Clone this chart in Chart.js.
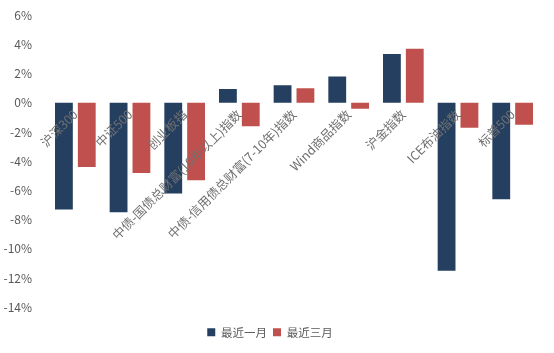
<!DOCTYPE html>
<html>
<head>
<meta charset="utf-8">
<script src="https://cdn.jsdelivr.net/npm/chart.js@4/dist/chart.umd.min.js"></script>
<style>
  html, body { margin: 0; padding: 0; background: #fff; }
  #wrap { width: 554px; height: 353px; }
</style>
</head>
<body>
<div id="wrap"><canvas id="c"></canvas></div>
<script>
// ═══════════════════════════════════════
// DATA
// ═══════════════════════════════════════
const categories = ['沪深300', '中证500', '创业板指', '中债-国债总财富(10年以上)指数', '中债-信用债总财富(7-10年)指数', 'Wind商品指数', '沪金指数', 'ICE布油指数', '标普500'];
const lastMonth = [-7.3, -7.5, -6.2, 0.95, 1.2, 1.8, 3.35, -11.5, -6.6];
const lastThreeMonths = [-4.4, -4.8, -5.3, -1.6, 1.0, -0.4, 3.7, -1.7, -1.5];
const seriesNames = ['最近一月', '最近三月'];
const yTicks = [6, 4, 2, 0, -2, -4, -6, -8, -10, -12, -14];

const FONT = '"Noto Sans CJK SC", "Microsoft YaHei", sans-serif';
const BLUE = '#243F60';
const RED = '#C0504D';

new Chart(document.getElementById('c'), {
  type: 'bar',
  data: {
    labels: categories,
    datasets: [
      { label: seriesNames[0], data: lastMonth, backgroundColor: BLUE },
      { label: seriesNames[1], data: lastThreeMonths, backgroundColor: RED },
    ],
  },
  options: {
    responsive: true,
    maintainAspectRatio: false,
    animation: false,
    categoryPercentage: 0.836,
    barPercentage: 0.78,
    layout: { padding: { top: 8, right: 14, left: 0, bottom: 5 } },
    plugins: {
      legend: {
        position: 'bottom',
        // blank title just opens up a gap between plot and legend
        title: { display: true, text: ' ', font: { size: 1 }, padding: { top: 12, bottom: 0 } },
        labels: {
          usePointStyle: true,
          pointStyle: 'rect',
          boxWidth: 8,
          boxHeight: 8,
          color: '#595959',
          font: { family: FONT, size: 11.5 },
          padding: 6,
        },
      },
      tooltip: { enabled: false },
    },
    scales: {
      x: {
        // axis sits on the zero line, labels hang below it over the bars
        position: { y: 0 },
        grid: { display: false },
        border: { display: false },
        ticks: {
          z: 1,
          autoSkip: false,
          maxRotation: 45,
          minRotation: 45,
          padding: -4,
          color: '#707070',
          font: { family: FONT, size: 12.5 },
        },
      },
      y: {
        min: -14,
        max: 6,
        afterBuildTicks: s => { s.ticks = yTicks.map(v => ({ value: v })); },
        afterFit: s => { s.width = 48; },
        grid: { display: false },
        border: { display: false },
        ticks: {
          padding: 8,
          color: '#595959',
          font: { family: FONT, size: 12 },
          callback: v => v + '%',
        },
      },
    },
  },
});
</script>
</body>
</html>
